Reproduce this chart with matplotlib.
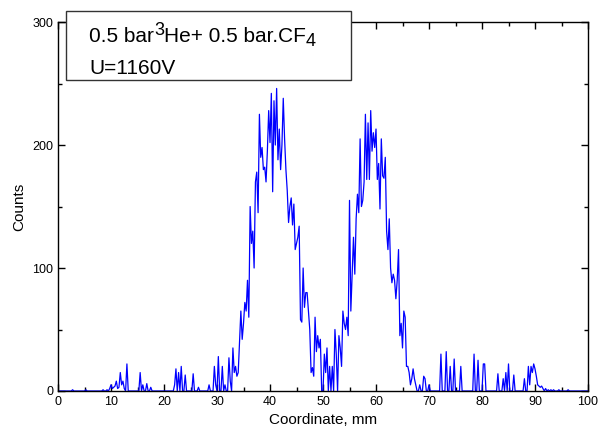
import numpy as np
import matplotlib.pyplot as plt
from matplotlib.patches import Rectangle

plt.rcParams['font.family'] = ['Liberation Sans', 'DejaVu Sans']

# counts per 0.25 mm channel, one row per mm (x.00, x.25, x.50, x.75)
counts_rows = [
    [0, 0, 0, 0], [0, 0, 0, 0], [0, 0, 0, 1], [0, 0, 0, 0], [0, 0, 0, 0],
    [0, 1, 0, 0], [0, 0, 0, 0], [0, 0, 0, 0], [0, 0, 1, 0], [0, 1, 0, 2],
    [5, 2, 3, 4], [8, 2, 3, 15], [5, 8, 2, 0], [22, 0, 0, 0], [0, 0, 0, 0],
    [0, 0, 15, 0], [5, 0, 0, 6], [0, 0, 3, 0], [0, 0, 0, 0], [0, 0, 0, 0],
    [0, 0, 0, 0], [0, 0, 0, 0], [5, 18, 0, 15], [0, 20, 0, 0], [13, 0, 0, 0],
    [0, 0, 14, 0], [0, 0, 3, 0], [0, 0, 0, 0], [0, 0, 5, 0], [0, 0, 20, 5],
    [0, 28, 0, 0], [20, 0, 5, 0], [0, 27, 8, 0], [35, 15, 20, 12], [15, 40, 65, 42],
    [55, 72, 65, 90], [60, 150, 120, 130], [100, 170, 178, 145], [225, 190, 198, 180], [182, 170, 195, 228],
    [202, 242, 162, 236], [200, 246, 188, 213], [180, 200, 238, 205], [180, 163, 137, 150], [157, 135, 152, 115],
    [120, 125, 134, 58], [56, 100, 68, 80], [80, 65, 50, 15], [19, 12, 60, 32], [45, 35, 42, 0],
    [0, 30, 15, 35], [0, 20, 0, 20], [0, 50, 30, 0], [45, 35, 20, 65], [55, 50, 60, 45],
    [155, 65, 95, 125], [95, 140, 160, 145], [205, 150, 155, 170], [225, 172, 218, 172], [228, 195, 210, 198],
    [213, 172, 185, 148], [205, 175, 173, 190], [130, 115, 140, 100], [88, 95, 90, 75], [90, 115, 45, 55],
    [35, 65, 60, 20], [20, 15, 5, 10], [18, 10, 5, 0], [0, 5, 0, 0], [12, 10, 0, 0],
    [5, 0, 0, 0], [0, 0, 0, 0], [0, 30, 0, 0], [0, 32, 0, 0], [20, 0, 0, 26],
    [0, 0, 0, 0], [20, 0, 0, 0], [0, 0, 0, 0], [0, 0, 30, 0], [0, 25, 0, 0],
    [0, 22, 22, 0], [0, 0, 0, 0], [0, 0, 0, 0], [14, 0, 0, 0], [10, 0, 15, 0],
    [22, 0, 0, 0], [13, 0, 0, 0], [0, 0, 0, 0], [10, 0, 0, 20], [5, 20, 15, 22],
    [18, 12, 5, 4], [3, 4, 2, 0], [2, 0, 1, 0], [1, 0, 1, 0], [0, 0, 1, 0],
    [0, 0, 0, 0], [0, 1, 0, 0], [0, 0, 0, 0], [0, 0, 0, 0], [0, 0, 0, 0],
]
counts = np.array([v for row in counts_rows for v in row] + [0])
coord = np.arange(len(counts)) * 0.25

# label pieces: (text, size, vertical shift in px)
label_parts = [('0.5 bar', 15, 0), ('3', 13, 7), ('He+ 0.5 bar.CF', 15, 0), ('4', 13, -4)]
label2 = 'U=1160V'

fig = plt.figure(figsize=(6, 4.41), dpi=100)
ax = fig.add_axes([0.0967, 0.1134, 0.8833, 0.8366])
ax.plot(coord, counts, color='#0000ff', lw=0.9)

ax.set_xlim(0, 100)
ax.set_ylim(0, 300)
ax.set_xticks(np.arange(0, 101, 10))
ax.set_xticks(np.arange(5, 100, 10), minor=True)
ax.set_yticks([0, 100, 200, 300])
ax.set_yticks([50, 150, 250], minor=True)
ax.tick_params(which='both', direction='in', top=True, right=True, labelsize=9, width=1)
ax.tick_params(which='major', length=5)
ax.tick_params(which='minor', length=3)
for s in ax.spines.values():
    s.set_linewidth(1)
ax.set_xlabel('Coordinate, mm', fontsize=11)
ax.set_ylabel('Counts', fontsize=11)

# label box, partly above the axes
fig.patches.append(Rectangle((66 / 600, 1 - 80 / 441), 285 / 600, 69 / 441, transform=fig.transFigure,
                             facecolor='white', edgecolor='#333333', lw=1, zorder=5))
W, H = 600, 441
renderer = fig.canvas.get_renderer()
x = 89
for txt, size, dy in label_parts:
    t = fig.text(x / W, (H - 42 + dy) / H, txt, fontsize=size, va='baseline', zorder=6)
    x += t.get_window_extent(renderer).width
fig.text(89 / W, (H - 74) / H, label2, fontsize=15, va='baseline', zorder=6)

fig.savefig('out.png', dpi=100)
